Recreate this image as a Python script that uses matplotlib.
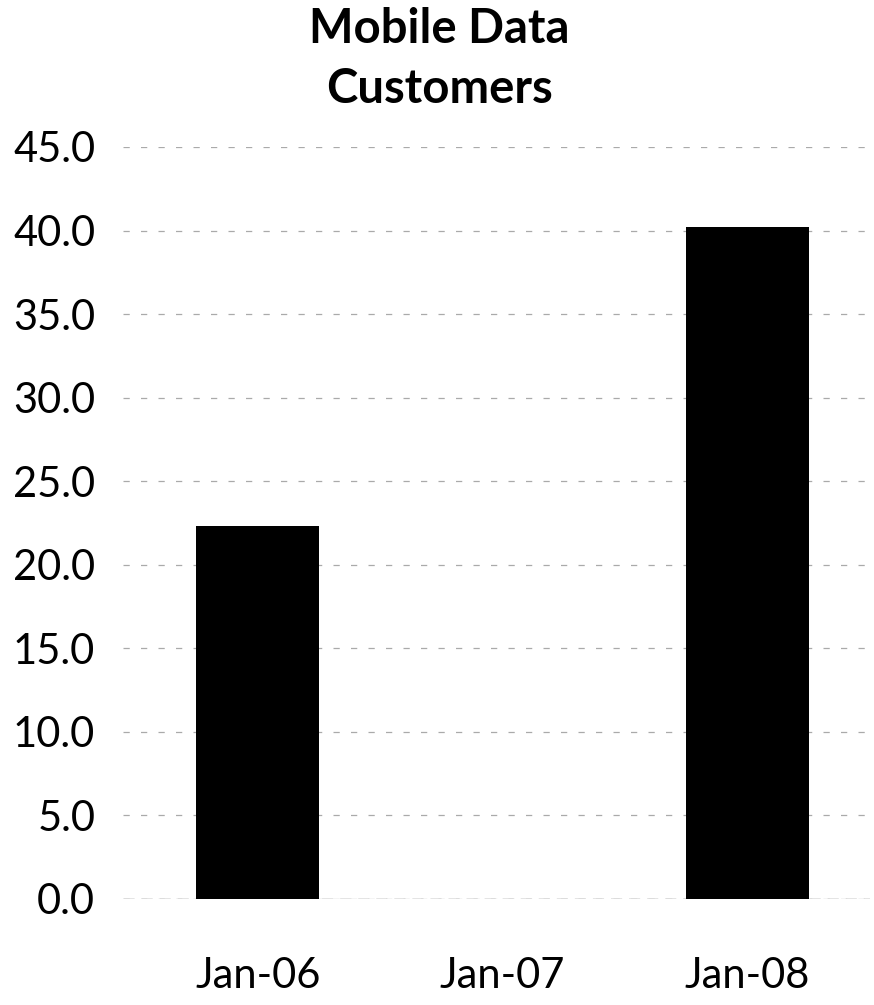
import matplotlib
matplotlib.use("Agg")
import matplotlib.pyplot as plt

categories = ["Jan-06", "Jan-07", "Jan-08"]
customers = [22.3, 0.0, 40.2]
yticks = [0, 5, 10, 15, 20, 25, 30, 35, 40, 45]

plt.rcParams['font.family'] = ['Lato', 'DejaVu Sans']

W, H = 874, 1005
fig = plt.figure(figsize=(W / 100, H / 100), dpi=100)
# plot area in pixel terms: x 123..870, y 147..899
ax = fig.add_axes([123 / W, 1 - 899 / H, (870 - 123) / W, (899 - 147) / H])

x = range(len(categories))
ax.bar(x, customers, width=0.5, color='black', zorder=3)

ax.set_xlim(-0.55, 2.5)
ax.set_ylim(0, 45)
ax.set_yticks(yticks)
ax.set_yticklabels([f"{v:.1f}" for v in yticks], fontsize=30)
ax.set_xticks(list(x))
ax.set_xticklabels(categories, fontsize=30)
ax.tick_params(axis='both', length=0)
ax.tick_params(axis='y', pad=20)
ax.tick_params(axis='x', pad=42)

ax.yaxis.grid(True, linestyle=(0, (5, 9)), color='#aaaaaa', linewidth=0.9, zorder=0)
ax.axhline(0, color='#777777', linestyle=(0, (8, 5)), linewidth=1.0, zorder=1)
for s in ax.spines.values():
    s.set_visible(False)

fig.text(439 / W, 1 - 43 / H, "Mobile Data", ha='center', va='baseline',
         fontsize=34, fontweight='bold')
fig.text(439 / W, 1 - 103 / H, "Customers", ha='center', va='baseline',
         fontsize=34, fontweight='bold')

fig.savefig("out.png", dpi=100, facecolor='white')
